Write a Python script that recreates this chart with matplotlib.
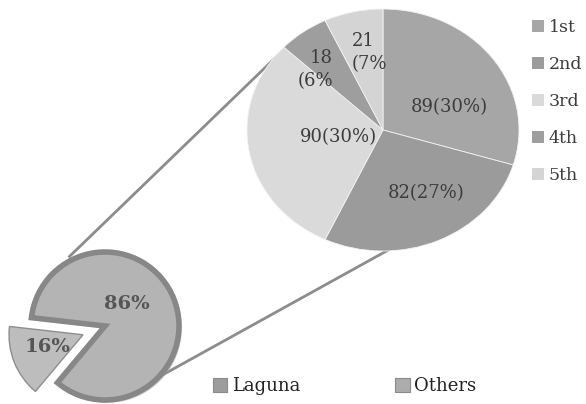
import numpy as np
import matplotlib.pyplot as plt
from matplotlib.patches import Rectangle
from matplotlib.lines import Line2D
import matplotlib.patheffects as pe

plt.rcParams['font.family'] = 'DejaVu Serif'

# big pie : rank breakdown
ranks = ['1st', '2nd', '3rd', '4th', '5th']
counts = [89, 82, 90, 18, 21]
shares = [30, 27, 30, 6, 7]
rank_colors = ['#a6a6a6', '#9b9b9b', '#dadada', '#9e9e9e', '#d4d4d4']

# small pie : Laguna vs others
groups = ['Laguna', 'Others']
group_pct = [86, 16]
group_colors = ['#b4b4b4', '#bdbdbd']

W, H = 586, 404
fig = plt.figure(figsize=(W / 100, H / 100), dpi=100)


def box(x0, y0, x1, y1):
    # pixel box (top-left origin) -> figure fraction
    return [x0 / W, 1 - y1 / H, (x1 - x0) / W, (y1 - y0) / H]


def polar(ang, r):
    a = np.deg2rad(ang)
    return (r * np.cos(a), r * np.sin(a))


txt_col = '#3c3c3c'

# ---------------- big pie
ax_big = fig.add_axes(box(247, 9, 519, 251))
ax_big.set_zorder(3)
wedges, _ = ax_big.pie(counts, startangle=90, counterclock=False, colors=rank_colors,
                       wedgeprops=dict(edgecolor='#f2f2f2', linewidth=0.6))
ax_big.set_aspect('auto')
ax_big.set_xlim(-1, 1)
ax_big.set_ylim(-1, 1)

big_labels = []
for c, s in zip(counts, shares):
    if s >= 10:
        big_labels.append('%d(%d%%)' % (c, s))
    else:
        big_labels.append('%d\n(%d%%' % (c, s))
lab_xy = [(0.49, 0.19), (0.32, -0.52), (-0.33, -0.06), (-0.50, 0.50), (-0.23, 0.64)]
lab_ha = ['center', 'center', 'center', 'center', 'left']
for t, (x, y), ha in zip(big_labels, lab_xy, lab_ha):
    ax_big.text(x, y, t, ha=ha, va='center', fontsize=13, color=txt_col,
                multialignment='right' if ha == 'center' else 'left', linespacing=1.3)

rank_handles = [Rectangle((0, 0), 1, 1, fc=c, ec='none') for c in rank_colors]
fig.legend(rank_handles, ranks, loc='upper left', bbox_to_anchor=(532 / W, 1 - 19 / H),
           frameon=False, fontsize=12.5, handlelength=0.7, handleheight=0.7,
           handletextpad=0.25, labelspacing=1.15, borderpad=0, borderaxespad=0,
           labelcolor=txt_col)

# ---------------- small pie
r_px = 74
cx, cy = 105, 326
ax_small = fig.add_axes(box(0, 236, 210, 404))
ax_small.set_zorder(2)
sw, _ = ax_small.pie(group_pct, startangle=230, colors=group_colors, explode=[0, 0.32],
                     radius=1.0)
ax_small.set_aspect('auto')
ax_small.set_xlim(-cx / r_px, (210 - cx) / r_px)
ax_small.set_ylim(-(404 - cy) / r_px, (cy - 236) / r_px)
sw[0].set_edgecolor('#878787')
sw[0].set_linewidth(4.0)
sw[0].set_path_effects([pe.SimplePatchShadow(offset=(2, -2), shadow_rgbFace='#a0a0a0', alpha=0.5),
                        pe.Normal()])
sw[1].set_edgecolor('#8e8e8e')
sw[1].set_linewidth(1.0)

ax_small.text(0.30, 0.30, '%d%%' % group_pct[0], ha='center', va='center', fontsize=14,
              fontweight='bold', color='#555555')
ax_small.text(-0.77, -0.28, '%d%%' % group_pct[1], ha='center', va='center', fontsize=14,
              fontweight='bold', color='#555555')

grp_handles = [Rectangle((0, 0), 1, 1, fc='#9c9c9c', ec='#8a8a8a', lw=0.8),
               Rectangle((0, 0), 1, 1, fc='#acacac', ec='#8a8a8a', lw=0.8)]
fig.legend(grp_handles, groups, loc='lower left', bbox_to_anchor=(213 / W, 9 / H), ncol=2,
           frameon=False, fontsize=13, handlelength=0.8, handleheight=0.8,
           handletextpad=0.25, columnspacing=5.25, borderpad=0, borderaxespad=0,
           labelcolor='#222222')

# ---------------- connecting lines (small pie edge -> big pie edge)
to_fig = fig.transFigure.inverted()
for a_s, r_s, a_b, r_b in [(118, 1.05, 141.8, 0.99), (-51, 0.97, -87.5, 0.99)]:
    p0 = to_fig.transform(ax_small.transData.transform(polar(a_s, r_s)))
    p1 = to_fig.transform(ax_big.transData.transform(polar(a_b, r_b)))
    fig.add_artist(Line2D([p0[0], p1[0]], [p0[1], p1[1]], transform=fig.transFigure,
                          color='#8c8c8c', linewidth=2.0, zorder=1,
                          solid_capstyle='butt'))

fig.savefig('out.png', dpi=100)
